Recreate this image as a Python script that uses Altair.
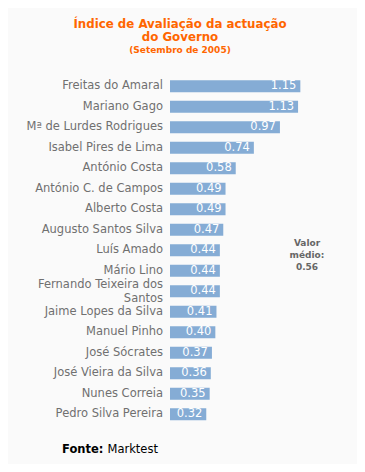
import altair as alt
import pandas as pd

names = ["Freitas do Amaral", "Mariano Gago", "Mª de Lurdes Rodrigues", "Isabel Pires de Lima",
         "António Costa", "António C. de Campos", "Alberto Costa", "Augusto Santos Silva",
         "Luís Amado", "Mário Lino", "Fernando Teixeira dos|Santos", "Jaime Lopes da Silva",
         "Manuel Pinho", "José Sócrates", "José Vieira da Silva", "Nunes Correia", "Pedro Silva Pereira"]
values = [1.15, 1.13, 0.97, 0.74, 0.58, 0.49, 0.49, 0.47, 0.44, 0.44, 0.44, 0.41, 0.40, 0.37, 0.36, 0.35, 0.32]
title_lines = ["Índice de Avaliação da actuação", "do Governo"]
subtitle = "(Setembro de 2005)"
note = "Valor|médio:|0.56"

df = pd.DataFrame({"name": names, "value": values,
                   "vlabel": [f"{v:.2f}" for v in values]})

FONT = "DejaVu Sans"
yenc = alt.Y("name:N", sort=names, axis=None,
             scale=alt.Scale(paddingInner=0.41, paddingOuter=0.205))
xscale = alt.Scale(domain=[0, 1.2])

base = alt.Chart(df)
bars = base.mark_bar(color="#85acd5").encode(
    x=alt.X("value:Q", scale=xscale, axis=None), y=yenc)
vals = base.mark_text(align="right", baseline="middle", dx=-4, color="white",
                      font=FONT, fontSize=11.5).encode(
    x=alt.X("value:Q", scale=xscale, axis=None), y=yenc, text="vlabel:N")
labels1 = base.transform_filter("indexof(datum.name, '|') < 0").mark_text(
    align="right", baseline="middle", color="#707070",
    font=FONT, fontSize=11.5).encode(
    x=alt.value(-7), y=yenc, text="name:N")
labels2 = base.transform_filter("indexof(datum.name, '|') >= 0").mark_text(
    align="right", baseline="middle", color="#707070", dy=-6,
    font=FONT, fontSize=11.5, lineBreak="|", lineHeight=13.5).encode(
    x=alt.value(-7), y=yenc, text="name:N")

one = pd.DataFrame({"t": [0]})
def txt(text, x, y, **kw):
    return alt.Chart(one).mark_text(text=text, font=FONT, **kw).encode(
        x=alt.value(x), y=alt.value(y))

t1 = txt(title_lines[0], 10, -52, fontSize=11.8, fontWeight="bold", color="#ff6600", align="center", baseline="middle")
t2 = txt(title_lines[1], 10, -39, fontSize=11.8, fontWeight="bold", color="#ff6600", align="center", baseline="middle")
t3 = txt(subtitle, 10, -26, fontSize=9, fontWeight="bold", color="#ff6600", align="center", baseline="middle")
nt = txt(note, 137, 167, fontSize=9, fontWeight="bold", color="#666666", align="center",
         baseline="middle", lineBreak="|", lineHeight=12)
f1 = txt("Fonte:", -108, 374, fontSize=11.5, fontWeight="bold", color="#000000", align="left", baseline="middle")
f2 = txt("Marktest", -62.5, 374, fontSize=11.5, color="#000000", align="left", baseline="middle")

chart = alt.layer(bars, vals, labels1, labels2, t1, t2, t3, nt, f1, f2).properties(
    width=136, height=348.5,
    autosize=alt.AutoSizeParams(type="none"),
    padding={"left": 162, "top": 68, "right": 51, "bottom": 39},
    background="#fafafa",
).configure_view(stroke=None)

chart.save("out.html", embed_options={"renderer": "svg", "actions": False})
